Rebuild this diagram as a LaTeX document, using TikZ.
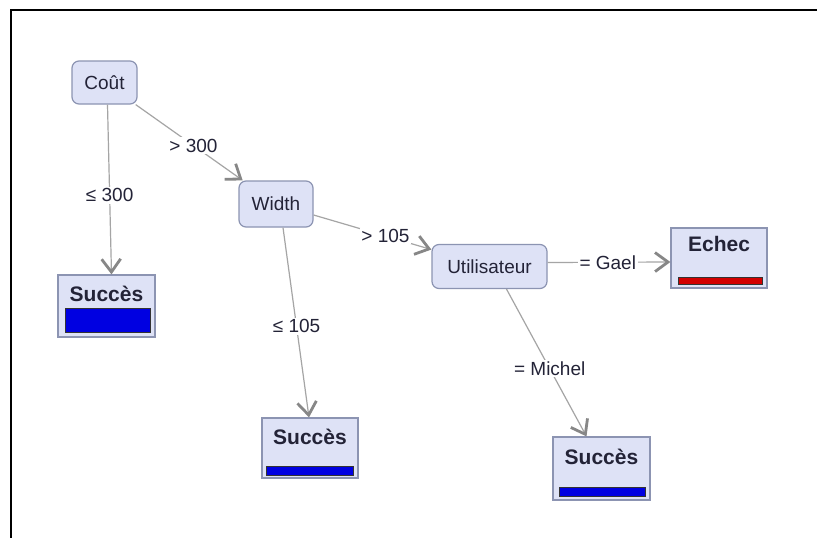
\documentclass[tikz,border=0pt]{standalone}
\usepackage{fontspec}
\setmainfont{Liberation Sans}
\usetikzlibrary{arrows.meta}
\definecolor{nodefill}{RGB}{222,226,246}
\definecolor{nodeedge}{RGB}{140,148,178}
\definecolor{edgegray}{RGB}{165,165,165}
\definecolor{tipgray}{RGB}{135,135,135}
\definecolor{txt}{RGB}{35,35,55}
\definecolor{barblue}{RGB}{0,0,225}
\definecolor{barred}{RGB}{210,0,0}
\tikzset{
  test/.style={draw=nodeedge, fill=nodefill, rounded corners=7pt, line width=1.2pt,
    minimum height=43pt, inner xsep=10pt, font=\fontsize{19}{22}\selectfont, text=txt},
  leaf/.style={draw=nodeedge, fill=nodefill, line width=1.2pt, inner sep=0pt},
  leaftitle/.style={font=\fontsize{21}{24}\selectfont\bfseries, text=txt, inner sep=0pt},
  branch/.style={draw=edgegray, line width=1.2pt,
    -{Straight Barb[length=13pt,width=19pt,line width=2.8pt,color=tipgray]}},
  cond/.style={fill=white, inner sep=1.5pt, font=\fontsize{19}{22}\selectfont, text=txt},
  bar/.style={draw=black!80, line width=1pt},
}
\begin{document}
\begin{tikzpicture}[x=1pt,y=-1pt]
  \useasboundingbox (0,0) rectangle (817,538);
  \fill[white] (0,0) rectangle (817,538);
  % frame
  \draw[line width=2pt, black] (11,538) -- (11,10) -- (817,10);

  % decision nodes
  \node[test, minimum width=65pt] (cout) at (104.5,82.5) {Coût};
  \node[test, minimum width=74pt, minimum height=46pt] (width) at (276,204) {Width};
  \node[test, minimum width=115pt, minimum height=44pt] (util) at (489.5,266.5) {Utilisateur};

  % leaves
  \node[leaf, minimum width=97pt, minimum height=62pt] (s1) at (106.5,306) {};
  \node[leaf, minimum width=96pt, minimum height=60pt] (s2) at (310,448) {};
  \node[leaf, minimum width=97pt, minimum height=63pt] (s3) at (601.5,468.5) {};
  \node[leaf, minimum width=96pt, minimum height=60pt] (echec) at (719,258) {};

  \node[leaftitle] (s1t) at (106.5,294) {Succès};
  \node[leaftitle] (s2t) at (310,437) {Succès};
  \node[leaftitle] (s3t) at (601.5,457) {Succès};
  \node[leaftitle] (echect) at (719,244) {Echec};

  \filldraw[bar, fill=barblue] (65,308) rectangle (150,332);
  \filldraw[bar, fill=barblue] (266,466) rectangle (353,475);
  \filldraw[bar, fill=barblue] (559,487) rectangle (645,496);
  \filldraw[bar, fill=barred] (678,277) rectangle (762,284);

  % branches
  \draw[branch] ([xshift=3pt]cout.south) -- node[cond,pos=0.535]{≤ 300} ([xshift=5pt]s1.north);
  \draw[branch] (cout) -- node[cond,pos=0.54]{> 300} (width);
  \draw[branch] (width) -- node[cond,pos=0.61]{> 105} (util);
  \draw[branch] ([xshift=7pt]width.south) -- node[cond,pos=0.52]{≤ 105} ([xshift=-1pt]s2.north);
  \draw[branch] ([yshift=4pt]util.east) -- node[cond,pos=0.49]{= Gael} ([yshift=-4pt]echec.west);
  \draw[branch] ([xshift=17pt]util.south) -- node[cond,pos=0.54]{= Michel} ([xshift=-15pt]s3.north);
\end{tikzpicture}
\end{document}
